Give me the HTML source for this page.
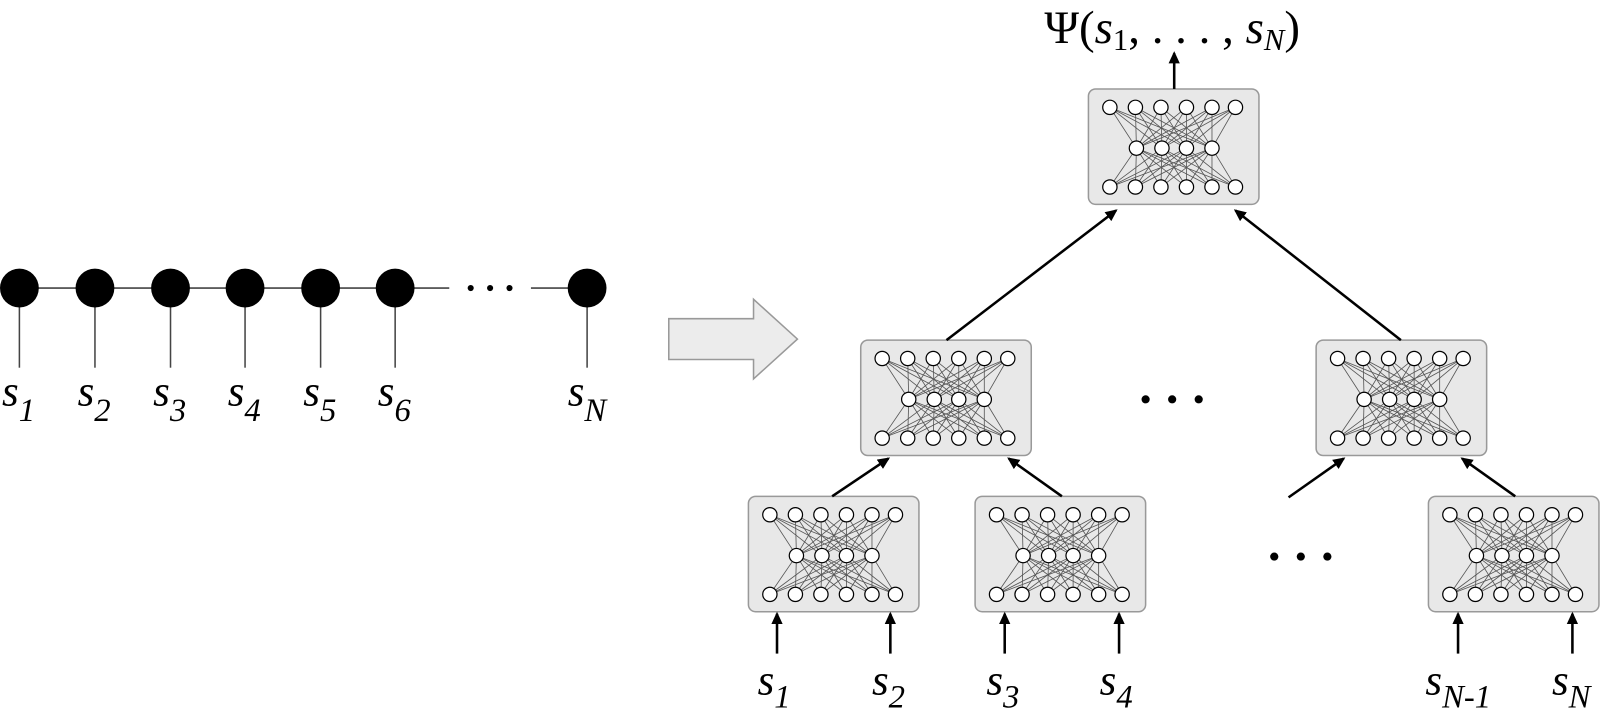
<!DOCTYPE html>
<html><head><meta charset="utf-8"><style>html,body{margin:0;padding:0;background:#fff;}svg{display:block}text{font-family:"Liberation Serif",serif;}</style></head>
<body>
<svg id="s" width="1601" height="716" viewBox="0 0 1568 701" xmlns="http://www.w3.org/2000/svg">
<defs><marker id="a" markerWidth="12" markerHeight="12" refX="10" refY="6" orient="auto" markerUnits="userSpaceOnUse"><path d="M0,0.5 L12,6 L0,11.5 Z" fill="#000"/></marker></defs>
<g stroke="#444" stroke-width="1.5">
<line x1="19" y1="282" x2="440" y2="282"/><line x1="520" y1="282" x2="575" y2="282"/>
<line x1="19" y1="282" x2="19" y2="360"/><line x1="93" y1="282" x2="93" y2="360"/><line x1="167" y1="282" x2="167" y2="360"/><line x1="240" y1="282" x2="240" y2="360"/><line x1="314" y1="282" x2="314" y2="360"/><line x1="387" y1="282" x2="387" y2="360"/><line x1="575" y1="282" x2="575" y2="360"/>
</g>
<g fill="#000"><circle cx="19" cy="282" r="19"/><circle cx="93" cy="282" r="19"/><circle cx="167" cy="282" r="19"/><circle cx="240" cy="282" r="19"/><circle cx="314" cy="282" r="19"/><circle cx="387" cy="282" r="19"/><circle cx="575" cy="282" r="19"/>
<circle cx="461" cy="282" r="3"/><circle cx="480" cy="282" r="3"/><circle cx="499" cy="282" r="3"/>
<circle cx="1122" cy="391" r="4"/><circle cx="1148" cy="391" r="4"/><circle cx="1174" cy="391" r="4"/>
<circle cx="1248" cy="545" r="4"/><circle cx="1274" cy="545" r="4"/><circle cx="1300" cy="545" r="4"/></g>
<g font-style="italic" font-size="42">
<text x="2" y="397">s<tspan font-size="32" dy="15">1</tspan></text>
<text x="76" y="397">s<tspan font-size="32" dy="15">2</tspan></text>
<text x="150" y="397">s<tspan font-size="32" dy="15">3</tspan></text>
<text x="223" y="397">s<tspan font-size="32" dy="15">4</tspan></text>
<text x="297" y="397">s<tspan font-size="32" dy="15">5</tspan></text>
<text x="370" y="397">s<tspan font-size="32" dy="15">6</tspan></text>
<text x="556" y="397">s<tspan font-size="32" dy="15">N</tspan></text>
<text x="742" y="680">s<tspan font-size="32" dy="13">1</tspan></text>
<text x="854" y="680">s<tspan font-size="32" dy="13">2</tspan></text>
<text x="966" y="680">s<tspan font-size="32" dy="13">3</tspan></text>
<text x="1077" y="680">s<tspan font-size="32" dy="13">4</tspan></text>
<text x="1396" y="680">s<tspan font-size="32" dy="13">N-1</tspan></text>
<text x="1520" y="680">s<tspan font-size="32" dy="13">N</tspan></text>
</g>
<text x="1148" y="42" text-anchor="middle" font-size="46">Ψ(<tspan font-style="italic">s</tspan><tspan font-size="30" dy="7">1</tspan><tspan dy="-7">, . . . , </tspan><tspan font-style="italic">s</tspan><tspan font-size="30" dy="7" font-style="italic">N</tspan><tspan dy="-7">)</tspan></text>
<polygon points="655,312 738,312 738,293 781,332 738,371 738,352 655,352" fill="#ececec" stroke="#999" stroke-width="1.5"/>
<g id="boxes"></g>
<g stroke="#000" stroke-width="2.5" marker-end="url(#a)">
<line x1="1150" y1="87" x2="1150" y2="52"/>
<line x1="927" y1="333" x2="1093" y2="206"/>
<line x1="1372" y1="333" x2="1210" y2="206"/>
<line x1="815" y1="486" x2="870" y2="449"/>
<line x1="1040" y1="486" x2="988" y2="449"/>
<line x1="1262" y1="487" x2="1316" y2="449"/>
<line x1="1484" y1="486" x2="1432" y2="449"/>
<line x1="761" y1="640" x2="761" y2="601"/>
<line x1="872" y1="640" x2="872" y2="601"/>
<line x1="984" y1="640" x2="984" y2="601"/>
<line x1="1096" y1="640" x2="1096" y2="601"/>
<line x1="1428" y1="640" x2="1428" y2="601"/>
<line x1="1540" y1="640" x2="1540" y2="601"/>
</g>
</svg>
<script>
var g=document.getElementById('boxes'),h='';
[[1066,87],[843,333],[1289,333],[733,486],[955,486],[1399,486]].forEach(function(b){
var x=b[0],y=b[1];
h+='<rect x="'+x+'" y="'+y+'" width="167" height="113" rx="7" fill="#e8e8e8" stroke="#999" stroke-width="1.5"/>';
var T=[21,46,71,96,121,144],M=[47,72,96,121];
var ty=y+18,my=y+58,by=y+96;
T.forEach(function(t){M.forEach(function(m){h+='<line x1="'+(x+t)+'" y1="'+ty+'" x2="'+(x+m)+'" y2="'+my+'" stroke="#555" stroke-width="0.8"/>';h+='<line x1="'+(x+t)+'" y1="'+by+'" x2="'+(x+m)+'" y2="'+my+'" stroke="#555" stroke-width="0.8"/>';});});
T.forEach(function(t){h+='<circle cx="'+(x+t)+'" cy="'+ty+'" r="7" fill="#fff" stroke="#000" stroke-width="1.2"/><circle cx="'+(x+t)+'" cy="'+by+'" r="7" fill="#fff" stroke="#000" stroke-width="1.2"/>';});
M.forEach(function(m){h+='<circle cx="'+(x+m)+'" cy="'+my+'" r="7" fill="#fff" stroke="#000" stroke-width="1.2"/>';});
});
g.innerHTML=h;
</script>
</body></html>
